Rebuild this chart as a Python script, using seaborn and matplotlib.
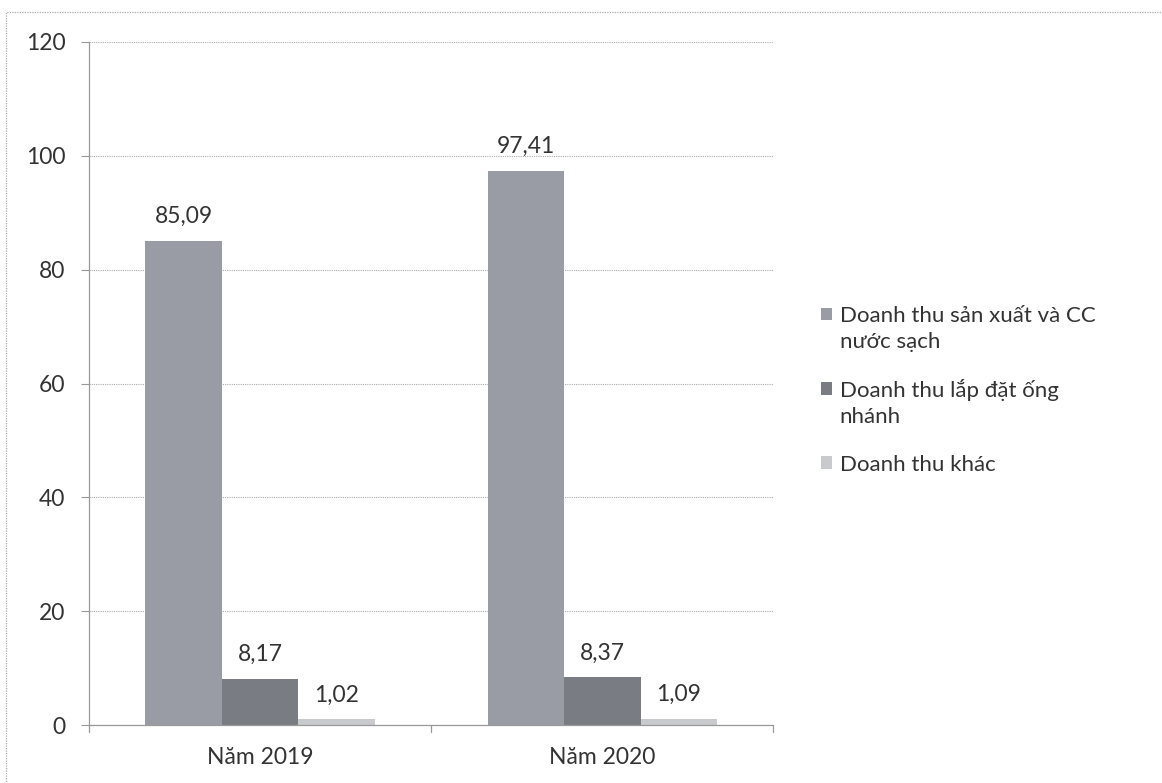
import matplotlib
matplotlib.use("Agg")
import matplotlib.pyplot as plt
import seaborn as sns
import pandas as pd
from matplotlib.patches import Rectangle
from matplotlib.legend_handler import HandlerPatch

# Revenue by year (billion VND)
years = ["Năm 2019", "Năm 2020"]
series = ["Doanh thu sản xuất và CC\nnước sạch",
          "Doanh thu lắp đặt ống\nnhánh",
          "Doanh thu khác"]
san_xuat = [85.09, 97.41]
lap_dat = [8.17, 8.37]
khac = [1.02, 1.09]
y_ticks = [0, 20, 40, 60, 80, 100, 120]
colors = ["#9a9ca5", "#7a7c83", "#c9cace"]

rows = []
for name, vals in zip(series, [san_xuat, lap_dat, khac]):
    for yr, v in zip(years, vals):
        rows.append({"Năm": yr, "Loại": name, "Giá trị": v})
df = pd.DataFrame(rows)

sns.set_theme(style="white")
plt.rcParams["font.family"] = ["Lato", "DejaVu Sans"]

fig = plt.figure(figsize=(11.62, 7.83), dpi=100)
ax = fig.add_axes([0.0766, 0.074, 0.589, 0.8724])

sns.barplot(data=df, x="Năm", y="Giá trị", hue="Loại", hue_order=series,
            order=years, palette=colors, width=0.67, saturation=1,
            edgecolor="none", linewidth=0, ax=ax, legend=False)

ax.set_ylim(0, 120)
ax.set_xlim(-0.5, 1.5)
ax.set_yticks(y_ticks)
ax.set_yticklabels([str(t) for t in y_ticks], fontsize=16.5, color="#333333")
ax.tick_params(axis="x", labelsize=16.5, labelcolor="#333333", length=0, pad=16)
ax.tick_params(axis="y", length=6, width=0.8, color="#999999", direction="out",
               left=True, pad=11)
ax.set_xlabel("")
ax.set_ylabel("")

ax.yaxis.grid(True, color="#aaaaaa", linestyle=(0, (1, 1)), linewidth=0.8)
ax.set_axisbelow(True)
for s in ["top", "right"]:
    ax.spines[s].set_visible(False)
for s in ["left", "bottom"]:
    ax.spines[s].set_color("#999999")
    ax.spines[s].set_linewidth(0.9)

# category boundary ticks on the x axis
for xb in [-0.5, 0.5, 1.5]:
    ax.plot([xb, xb], [0, -1.2], color="#999999", lw=0.9, clip_on=False)

# value labels with comma decimals
for cont in ax.containers:
    ax.bar_label(cont, labels=[f"{b.get_height():.2f}".replace(".", ",") for b in cont],
                 padding=10, fontsize=16.5, color="#333333")

# legend: swatch sits beside the first line of each wrapped label
LEG_FS = 16
LINE_SP = 1.35


def make_swatch_func(n_lines):
    shift = 0.5 * (n_lines - 1) * LINE_SP * LEG_FS

    def func(legend, orig_handle, xdescent, ydescent, width, height, fontsize):
        return Rectangle((-xdescent, -ydescent + shift), width, height)
    return func


handles = [Rectangle((0, 0), 1, 1, facecolor=c, edgecolor="none") for c in colors]
hmap = {h: HandlerPatch(patch_func=make_swatch_func(lbl.count("\n") + 1))
        for h, lbl in zip(handles, series)}
leg = ax.legend(handles, series, handler_map=hmap, loc="center left",
                bbox_to_anchor=(1.04, 0.49), frameon=False, fontsize=LEG_FS,
                handlelength=0.5, handleheight=0.5, handletextpad=0.35,
                labelspacing=1.25, labelcolor="#333333")
for t in leg.get_texts():
    t.set_linespacing(LINE_SP)

# outer chart frame
fig.patches.append(Rectangle((6 / 1162, -0.05), 1.2, 1 - 12 / 783 + 0.05,
                             transform=fig.transFigure, fill=False,
                             edgecolor="#aaaaaa", linewidth=0.9,
                             linestyle=(0, (1, 1))))

fig.savefig("out.png", dpi=100)
